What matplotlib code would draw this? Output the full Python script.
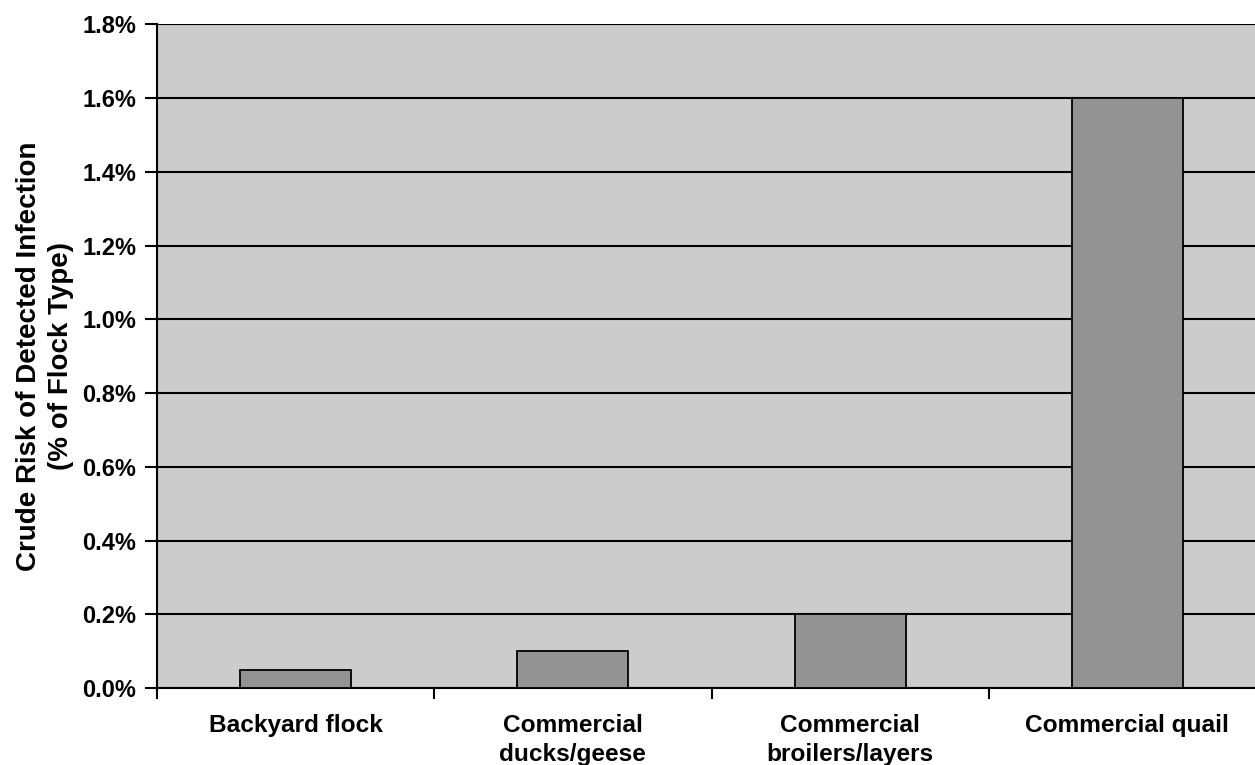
import matplotlib.pyplot as plt
from matplotlib.ticker import FuncFormatter, MultipleLocator
import numpy as np

# crude risk of detected infection, percent of flocks of each type
flock_types = ["Backyard flock", "Commercial\nducks/geese",
               "Commercial\nbroilers/layers", "Commercial quail"]
risk_pct = [0.05, 0.10, 0.20, 1.60]

plt.rcParams['font.family'] = ['Liberation Sans', 'DejaVu Sans']
plt.rcParams['font.weight'] = 'bold'

fig = plt.figure(figsize=(12.55, 7.65), dpi=100)
ax = fig.add_axes([0.1251, 0.1007, 0.8837, 0.8673])
ax.set_facecolor('#cccccc')

x = np.arange(len(flock_types))
ax.bar(x, risk_pct, width=0.4, color='#939393', edgecolor='black',
       linewidth=1.3, zorder=3)

ax.set_xlim(-0.5, len(flock_types) - 0.5)
ax.set_ylim(0, 1.8)
ax.yaxis.set_major_locator(MultipleLocator(0.2))
ax.yaxis.set_major_formatter(FuncFormatter(lambda v, p: f"{v:.1f}%"))
ax.grid(axis='y', color='black', linewidth=1.5, zorder=1)

ax.set_xticks(x)
ax.set_xticklabels(flock_types, fontsize=17.6, fontweight='bold', linespacing=1.3)
ax.set_xticks(np.arange(-0.5, len(flock_types)), minor=True)
ax.tick_params(axis='x', which='major', length=0, pad=19)
ax.tick_params(axis='x', which='minor', length=8, width=1.5, color='black')
ax.tick_params(axis='y', length=9, width=1.5, labelsize=17, pad=6)
for lab in ax.get_yticklabels():
    lab.set_fontweight('bold')

for side in ['top', 'right']:
    ax.spines[side].set_visible(False)
for side in ['left', 'bottom']:
    ax.spines[side].set_linewidth(1.5)
    ax.spines[side].set_color('black')

ax.set_ylabel("Crude Risk of Detected Infection\n(% of Flock Type)",
              fontsize=20, fontweight='bold', labelpad=6, linespacing=1.3)

fig.savefig("out.png", dpi=100)
